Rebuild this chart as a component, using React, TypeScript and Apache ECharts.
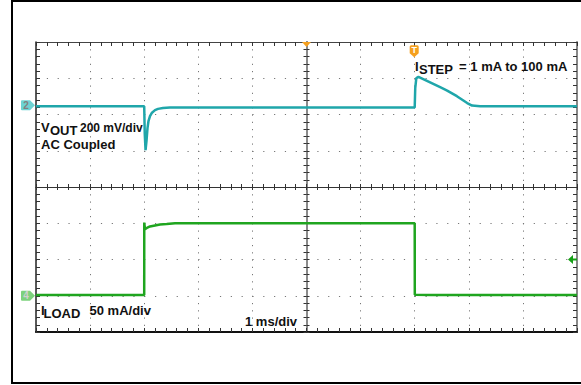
import React, { useEffect, useRef } from 'react';
import * as echarts from 'echarts';

// Horizontal: 1 ms/div, 10 divisions centred on the trigger point
const TIME_MIN = -5;
const TIME_MAX = 5;
// Vertical: 8 divisions
const DIV_MIN = -4;
const DIV_MAX = 4;

// Channel 2 : VOUT, AC coupled, 200 mV/div
const V_SCALE = 200; // mV per div
const V_OFFSET = 2.23; // div (channel 2 ground marker)
const voutTime = [-5, -3.0, -2.99, -2.975, -2.957, -2.939, -2.921, -2.893, -2.856, -2.8, -2.745, -2.653, -2.524, 2.0, 2.01, 2.03, 2.07, 2.47, 2.6, 2.78, 2.97, 3.06, 3.21, 5];
const voutMv = [0, 0, -150, -243, -190, -121, -83, -55, -36, -22, -15, -10, -7, -7, 100, 155, 162, 105, 86, 55, 17, 3, 0, 0];

// Channel 4 : ILOAD, 50 mA/div
const I_SCALE = 50; // mA per div
const I_OFFSET = -3; // div (channel 4 ground marker)
const iloadTime = [-5, -3.0, -2.999, -2.985, -2.95, -2.893, -2.708, -2.584, -2.43, 2.0, 2.002, 2.3, 5];
const iloadMa = [1, 1, 101, 92, 93.5, 95.6, 98.3, 98.9, 100, 100, 1.5, 1, 1];

// Trigger markers
const TRIGGER_TIME = 0; // ms
const T_MARK_TIME = 2; // ms
const TRIGGER_LEVEL_MA = 50; // mA on channel 4

const CYAN = '#1fa6aa';
const GREEN = '#1fa51f';
const ORANGE = '#f5a01e';
const FONT = 'Liberation Sans, Arial, sans-serif';

const tickStyle = { color: '#333', width: 1 };

function xAxisDef(position: string, extra: any) {
  return {
    type: 'value',
    min: TIME_MIN,
    max: TIME_MAX,
    interval: 1,
    position,
    axisLabel: { show: false },
    splitLine: { show: false },
    axisTick: { show: true, inside: true, length: 4, lineStyle: tickStyle },
    minorTick: { show: true, splitNumber: 5, length: 4, lineStyle: tickStyle },
    ...extra,
  };
}
function yAxisDef(position: string, extra: any) {
  return {
    type: 'value',
    min: DIV_MIN,
    max: DIV_MAX,
    interval: 1,
    position,
    axisLabel: { show: false },
    splitLine: { show: false },
    axisTick: { show: true, inside: true, length: 4, lineStyle: tickStyle },
    minorTick: { show: true, splitNumber: 5, length: 4, lineStyle: tickStyle },
    ...extra,
  };
}

function txt(text: string, x: number, y: number, size = 13) {
  return {
    type: 'text',
    x,
    y,
    z: 100,
    silent: true,
    style: {
      text,
      fill: '#111',
      fontFamily: FONT,
      fontWeight: 'bold',
      fontSize: size,
      textAlign: 'left',
      textVerticalAlign: 'middle',
      align: 'left',
      verticalAlign: 'middle',
    },
  };
}

export default function App() {
  const ref = useRef<HTMLDivElement>(null);
  useEffect(() => {
    const chart = echarts.init(ref.current!, null, { renderer: 'svg' });
    const vData = voutTime.map((t, i) => [t, V_OFFSET + voutMv[i] / V_SCALE]);
    const iData = iloadTime.map((t, i) => [t, I_OFFSET + iloadMa[i] / I_SCALE]);

    const option: any = {
      animation: false,
      backgroundColor: '#fff',
      grid: { left: 36, top: 42, width: 541, height: 290, show: false },
      xAxis: [
        xAxisDef('bottom', {
          axisLine: { show: true, onZero: false, lineStyle: { color: '#111', width: 2 } },
          splitLine: { show: true, lineStyle: { color: '#777', width: 1, type: [1.2, 6.05] } },
        }),
        xAxisDef('top', {
          axisLine: { show: true, onZero: false, lineStyle: { color: '#444', width: 1 } },
        }),
        xAxisDef('bottom', {
          axisLine: { show: true, onZero: true, onZeroAxisIndex: 0, lineStyle: { color: '#333', width: 1 } },
          axisTick: { show: true, inside: true, length: 3, lineStyle: tickStyle },
          minorTick: { show: true, splitNumber: 5, length: 3, lineStyle: tickStyle },
        }),
        xAxisDef('bottom', {
          axisLine: { show: true, onZero: true, onZeroAxisIndex: 0, lineStyle: { color: '#333', width: 1 } },
          axisTick: { show: true, inside: false, length: 3, lineStyle: tickStyle },
          minorTick: { show: true, splitNumber: 5, length: 3, lineStyle: tickStyle },
        }),
      ],
      yAxis: [
        yAxisDef('left', {
          axisLine: { show: true, onZero: false, lineStyle: { color: '#222', width: 1.5 } },
          splitLine: { show: true, lineStyle: { color: '#777', width: 1, type: [1.2, 9.62] } },
        }),
        yAxisDef('right', {
          axisLine: { show: true, onZero: false, lineStyle: { color: '#888', width: 2 } },
        }),
        yAxisDef('left', {
          axisLine: { show: true, onZero: true, onZeroAxisIndex: 0, lineStyle: { color: '#8a8a8a', width: 2 } },
          axisTick: { show: true, inside: true, length: 3, lineStyle: tickStyle },
          minorTick: { show: true, splitNumber: 5, length: 3, lineStyle: tickStyle },
        }),
        yAxisDef('left', {
          axisLine: { show: true, onZero: true, onZeroAxisIndex: 0, lineStyle: { color: '#8a8a8a', width: 2 } },
          axisTick: { show: true, inside: false, length: 3, lineStyle: tickStyle },
          minorTick: { show: true, splitNumber: 5, length: 3, lineStyle: tickStyle },
        }),
      ],
      series: [
        {
          name: 'VOUT',
          type: 'line',
          xAxisIndex: 0,
          yAxisIndex: 0,
          showSymbol: false,
          symbol: 'none',
          z: 5,
          lineStyle: { color: CYAN, width: 2.5 },
          data: vData,
          markPoint: {
            silent: true,
            animation: false,
            data: [
              {
                coord: [TIME_MIN, V_OFFSET],
                symbol: 'path://M1,0 L9,0 L14,5 L9,10 L1,10 Q0,10 0,9 L0,1 Q0,0 1,0 Z',
                symbolSize: [14, 10],
                symbolOffset: [-8, -1],
                itemStyle: { color: '#6dd3d3' },
                label: { show: true, position: 'inside', formatter: '2', color: '#808080', fontSize: 10, fontWeight: 'bold', fontFamily: FONT, offset: [-2, 0] },
              },
              {
                coord: [TRIGGER_TIME, DIV_MAX],
                symbol: 'triangle',
                symbolRotate: 180,
                symbolSize: [9, 5],
                symbolOffset: [0, 2.5],
                itemStyle: { color: ORANGE },
                label: { show: false },
              },
              {
                coord: [T_MARK_TIME, DIV_MAX],
                symbol: 'path://M1.5,0 L8.5,0 Q10,0 10,1.5 L10,8 L5,12 L0,8 L0,1.5 Q0,0 1.5,0 Z',
                symbolSize: [9, 12],
                symbolOffset: [-0.5, 9.3],
                itemStyle: { color: ORANGE },
                label: { show: true, position: 'inside', formatter: 'T', color: '#fff', fontSize: 9, fontWeight: 'bold', fontFamily: FONT, offset: [0, -1] },
              },
            ],
          },
        },
        {
          name: 'ILOAD',
          type: 'line',
          xAxisIndex: 0,
          yAxisIndex: 0,
          showSymbol: false,
          symbol: 'none',
          z: 5,
          lineStyle: { color: GREEN, width: 2.5 },
          data: iData,
          markPoint: {
            silent: true,
            animation: false,
            data: [
              {
                coord: [TIME_MIN, I_OFFSET],
                symbol: 'path://M1,0 L9,0 L14,5 L9,10 L1,10 Q0,10 0,9 L0,1 Q0,0 1,0 Z',
                symbolSize: [14, 10],
                symbolOffset: [-8, 0],
                itemStyle: { color: '#7dd27d' },
                label: { show: true, position: 'inside', formatter: '4', color: '#d0d0d0', fontSize: 10, fontWeight: 'bold', fontFamily: FONT, offset: [-2, 0] },
              },
              {
                coord: [TIME_MAX, I_OFFSET + TRIGGER_LEVEL_MA / I_SCALE],
                symbol: 'path://M0,4.5 L5,0 L5,3.5 L9,3.5 L9,5.5 L5,5.5 L5,9 Z',
                symbolSize: [9, 9],
                symbolOffset: [-4.5, 0],
                itemStyle: { color: '#16a016' },
                label: { show: false },
              },
            ],
          },
        },
      ],
      graphic: [
        {
          type: 'rect',
          silent: true,
          z: 100,
          shape: { x: 12, y: 1, width: 620, height: 382 },
          style: { fill: 'none', stroke: '#000', lineWidth: 2 },
        },
        txt('V', 41, 127.5),
        txt('OUT', 50, 130.5),
        txt('200 mV/div', 80, 127.5, 12),
        txt('AC Coupled', 41, 144.5),
        txt('I', 415, 66.8),
        txt('STEP', 419, 69.2),
        txt(' = 1 mA to 100 mA', 455.5, 66.5),
        txt('I', 41, 310),
        txt('LOAD', 43.5, 313),
        txt('50 mA/div', 89.5, 310.3),
        txt('1 ms/div', 245, 321.7),
      ],
    };
    chart.setOption(option);
    return () => chart.dispose();
  }, []);
  return (
    <div
      ref={ref}
      style={{ position: 'fixed', left: 0, top: 0, width: 581, height: 385, background: '#fff' }}
    />
  );
}
